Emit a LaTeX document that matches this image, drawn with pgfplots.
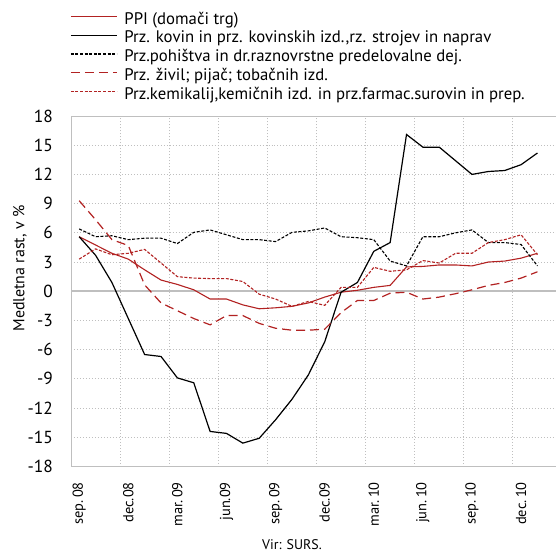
\documentclass[border=0pt]{standalone}
\usepackage{fontspec}
\setmainfont{PT Sans}
\usepackage{pgfplots}
\pgfplotsset{compat=1.18}
\usepackage{pgfplotstable}
\definecolor{dred}{RGB}{178,34,34}
\definecolor{gridgray}{RGB}{191,191,191}

\pgfplotstableread{
i ppi met fur food chem
0 5.6 5.6 6.4 9.3 3.3
1 4.75 3.7 5.6 7.35 4.35
2 3.9 0.9 5.7 5.3 3.75
3 3.3 -2.8 5.3 4.7 3.9
4 2.2 -6.5 5.45 0.65 4.3
5 1.15 -6.7 5.45 -1.2 2.9
6 0.7 -8.9 4.9 -2.0 1.5
7 0.15 -9.4 6.05 -2.8 1.35
8 -0.8 -14.4 6.3 -3.45 1.3
9 -0.8 -14.6 5.8 -2.5 1.3
10 -1.4 -15.6 5.3 -2.5 1.0
11 -1.8 -15.1 5.3 -3.3 -0.3
12 -1.7 -13.2 5.1 -3.8 -0.8
13 -1.55 -11.1 6.05 -4.0 -1.55
14 -1.2 -8.6 6.2 -4.0 -1.05
15 -0.6 -5.2 6.5 -3.9 -1.45
16 -0.1 -0.1 5.6 -2.2 0.4
17 0.1 0.9 5.5 -0.95 0.4
18 0.4 4.1 5.3 -0.95 2.45
19 0.6 5.0 3.1 -0.2 2.05
20 2.5 16.1 2.6 -0.1 2.2
21 2.55 14.8 5.6 -0.8 3.15
22 2.7 14.8 5.6 -0.6 2.9
23 2.7 13.4 6.0 -0.25 3.9
24 2.6 12.0 6.3 0.15 3.9
25 3.0 12.3 5.0 0.6 5.0
26 3.1 12.4 5.0 0.9 5.3
27 3.4 13.0 4.8 1.35 5.8
28 3.9 14.2 2.6 2.0 3.75
}\data

\begin{document}
\begin{tikzpicture}
\path[use as bounding box] (0,0) rectangle (556bp,555bp);
\begin{axis}[
  at={(71bp,88.5bp)}, anchor=south west,
  scale only axis, width=491bp, height=350.5bp,
  xmin=-0.5, xmax=29.5, ymin=-18, ymax=18,
  ytick={-18,-15,...,18},
  yticklabels={-18,-15,-12,-9,-6,-3,0,3,6,9,12,15,18},
  xtick={0,3,...,27},
  xticklabels={sep.\,08,dec.08,mar.\,09,jun.09,sep.\,09,dec.09,mar.\,10,jun.\,10,sep.\,10,dec.\,10},
  minor xtick={2.5,5.5,...,26.5},
  xminorgrids=true, xmajorgrids=false, ymajorgrids=true,
  major grid style={gridgray, line width=1bp, dotted},
  minor grid style={gridgray, line width=1bp, dotted},
  major tick length=0pt, minor tick length=0pt,
  axis line style={gridgray, line width=1bp},
  extra y ticks={0}, extra y tick labels={},
  extra y tick style={grid=major, major grid style={solid, gridgray, line width=2.4bp}},
  yticklabel style={font=\fontsize{17.5}{17.5}\selectfont, anchor=east, inner sep=0pt, xshift=-18bp},
  xticklabel style={font=\fontsize{14.5}{14.5}\selectfont, rotate=90, anchor=east, inner sep=0pt},
  xticklabel shift=15.5bp,
  ylabel={Medletna rast, v \%},
  every axis y label/.style={at={(axis description cs:-0.104,0.565)}, rotate=90, anchor=center, font=\fontsize{16}{16}\selectfont},
  legend cell align=left,
  legend image code/.code={\draw[#1] (0bp,4.5bp) -- (46bp,4.5bp);},
  legend style={at={(axis description cs:-0.002,1.298)}, anchor=north west, draw=none, fill=none,
    inner sep=0pt, font=\fontsize{16.8}{16.8}\selectfont, column sep=7bp,
    nodes={inner sep=0pt, text height=12.5bp, text depth=6.2bp}},
]
\addplot[dred, line width=1.1bp] table[x=i, y=ppi] {\data};
\addlegendentry{PPI (domači trg)}
\addplot[black, line width=1.2bp] table[x=i, y=met] {\data};
\addlegendentry{Prz. kovin in prz. kovinskih izd.,rz. strojev in naprav}
\addplot[black, line width=1.1bp, dash pattern=on 3bp off 1.6bp] table[x=i, y=fur] {\data};
\addlegendentry{Prz.pohištva in dr.raznovrstne predelovalne dej.}
\addplot[dred, line width=1.2bp, dash pattern=on 9bp off 5bp] table[x=i, y=food] {\data};
\addlegendentry{Prz. živil; pijač; tobačnih izd.}
\addplot[dred, line width=1.1bp, dash pattern=on 3bp off 1.6bp] table[x=i, y=chem] {\data};
\addlegendentry{Prz.kemikalij,kemičnih izd. in prz.farmac.surovin in prep.}
\end{axis}
\node[font=\fontsize{14}{14}\selectfont, anchor=center] at (292bp,10bp) {Vir: SURS.};
\end{tikzpicture}
\end{document}
